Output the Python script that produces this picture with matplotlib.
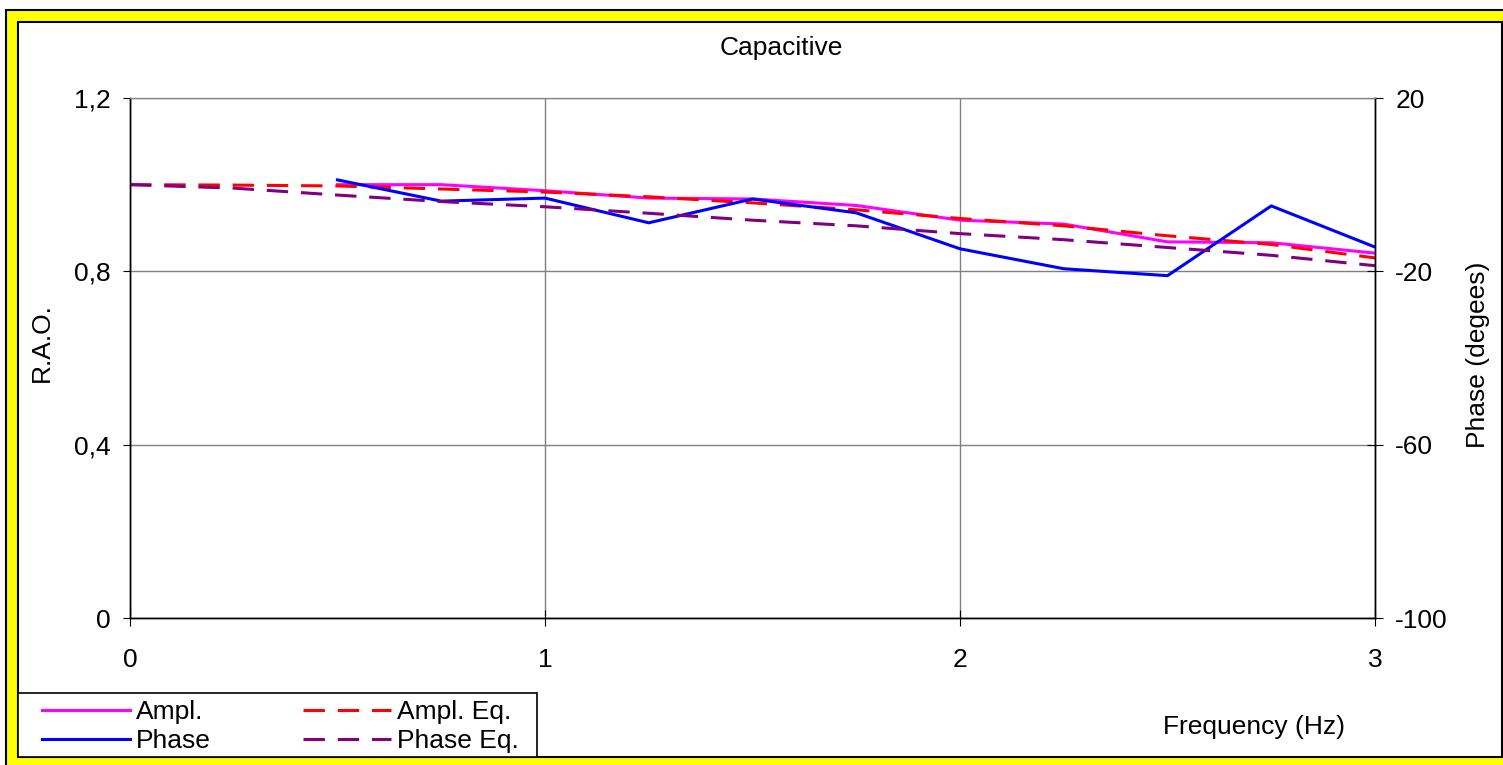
import matplotlib

matplotlib.use("Agg")
import matplotlib.pyplot as plt
from matplotlib.patches import Rectangle

plt.rcParams["font.family"] = ["Liberation Sans", "DejaVu Sans"]
plt.rcParams["axes.unicode_minus"] = False

# measured points (every 0.25 Hz from 0.5 Hz)
freq_meas = [0.5, 0.75, 1.0, 1.25, 1.5, 1.75, 2.0, 2.25, 2.5, 2.75, 3.0]
ampl = [1.0, 1.0, 0.986, 0.969, 0.967, 0.952, 0.918, 0.909, 0.868, 0.866, 0.842]
phase = [1.1, -3.8, -3.1, -8.8, -3.3, -6.5, -14.8, -19.4, -21.0, -4.9, -14.4]

# equivalent model curves
freq_eq = [0, 0.25, 0.5, 0.75, 1.0, 1.25, 1.5, 1.75, 2.0, 2.25, 2.5, 2.75, 3.0]
ampl_eq = [1.0, 0.999, 0.997, 0.99, 0.983, 0.972, 0.958, 0.942, 0.922, 0.905, 0.882, 0.862, 0.831]
phase_eq = [0, -0.8, -2.4, -3.9, -5.1, -6.6, -8.2, -9.5, -11.3, -12.7, -14.5, -16.3, -18.7]

rao_ticks = [0, 0.4, 0.8, 1.2]
rao_labels = ["0", "0,4", "0,8", "1,2"]
phase_ticks = [-100, -60, -20, 20]
freq_ticks = [0, 1, 2, 3]

W, H = 1503, 765
FS = 19
fig = plt.figure(figsize=(W / 100, H / 100), dpi=100)


def fx(px):
    return px / W


def fy(py):
    return 1 - py / H


# yellow chart frame (cropped on the right like the original)
fig.add_artist(Rectangle((fx(6), fy(780)), fx(1520 - 6), (780 - 10) / H,
                         facecolor="#ffff00", edgecolor="black", lw=1.5,
                         transform=fig.transFigure, zorder=0))
fig.add_artist(Rectangle((fx(18), fy(757)), fx(1502 - 18), (757 - 22) / H,
                         facecolor="white", edgecolor="black", lw=1.5,
                         transform=fig.transFigure, zorder=0))
# legend box
fig.add_artist(Rectangle((fx(18), fy(757)), fx(537 - 18), (757 - 693) / H,
                         facecolor="white", edgecolor="black", lw=1.2,
                         transform=fig.transFigure, zorder=1))

ax = fig.add_axes([fx(130), fy(618), fx(1375 - 130), (618 - 98) / H])
ax.set_facecolor("none")
ax2 = ax.twinx()

ax.plot(freq_meas, ampl, color="#ff00ff", lw=2.2, label="Ampl.")
ax.plot(freq_eq, ampl_eq, color="#ff0000", lw=2.2, dashes=(7, 4.2), label="Ampl. Eq.")
ax2.plot(freq_meas, phase, color="#0000ff", lw=2.2, label="Phase")
ax2.plot(freq_eq, phase_eq, color="#800080", lw=2.2, dashes=(7, 4.2), label="Phase Eq.")

ax.set_xlim(0, 3)
ax.set_ylim(0, 1.2)
ax2.set_ylim(-100, 20)
ax.set_xticks(freq_ticks)
ax.set_yticks(rao_ticks)
ax.set_yticklabels(rao_labels)
ax2.set_yticks(phase_ticks)

ax.grid(True, color="#808080", lw=1)
ax.set_axisbelow(True)
for a in (ax, ax2):
    a.spines["top"].set_color("#808080")
    for s in ("left", "right", "bottom"):
        a.spines[s].set_color("black")
        a.spines[s].set_linewidth(1)
ax.tick_params(axis="x", direction="inout", length=11, pad=16, labelsize=FS)
ax.tick_params(axis="y", direction="out", length=5, pad=9, labelsize=FS)
ax2.tick_params(axis="y", direction="inout", length=11, pad=9, labelsize=FS)

fig.text(fx(781), fy(48), "Capacitive", ha="center", va="center", fontsize=FS)
fig.text(fx(42), fy(343), "R.A.O.", ha="center", va="center", rotation=90, fontsize=FS)
fig.text(fx(1478), fy(355), "Phase (degees)", ha="center", va="center", rotation=90, fontsize=FS)
fig.text(fx(1254), fy(727), "Frequency (Hz)", ha="center", va="center", fontsize=FS)

h1, l1 = ax.get_legend_handles_labels()
h2, l2 = ax2.get_legend_handles_labels()
handles = [h1[0], h2[0], h1[1], h2[1]]
labels = [l1[0], l2[0], l1[1], l2[1]]
leg = fig.legend(handles, labels, ncol=2, loc="center left",
                 bbox_to_anchor=(fx(42), fy(726.5)),
                 borderaxespad=0, borderpad=0, fontsize=FS, frameon=False,
                 handlelength=3.33, handletextpad=0.23, labelspacing=0.2,
                 columnspacing=3.5)
leg.set_zorder(2)

fig.savefig("out.png", dpi=100)
